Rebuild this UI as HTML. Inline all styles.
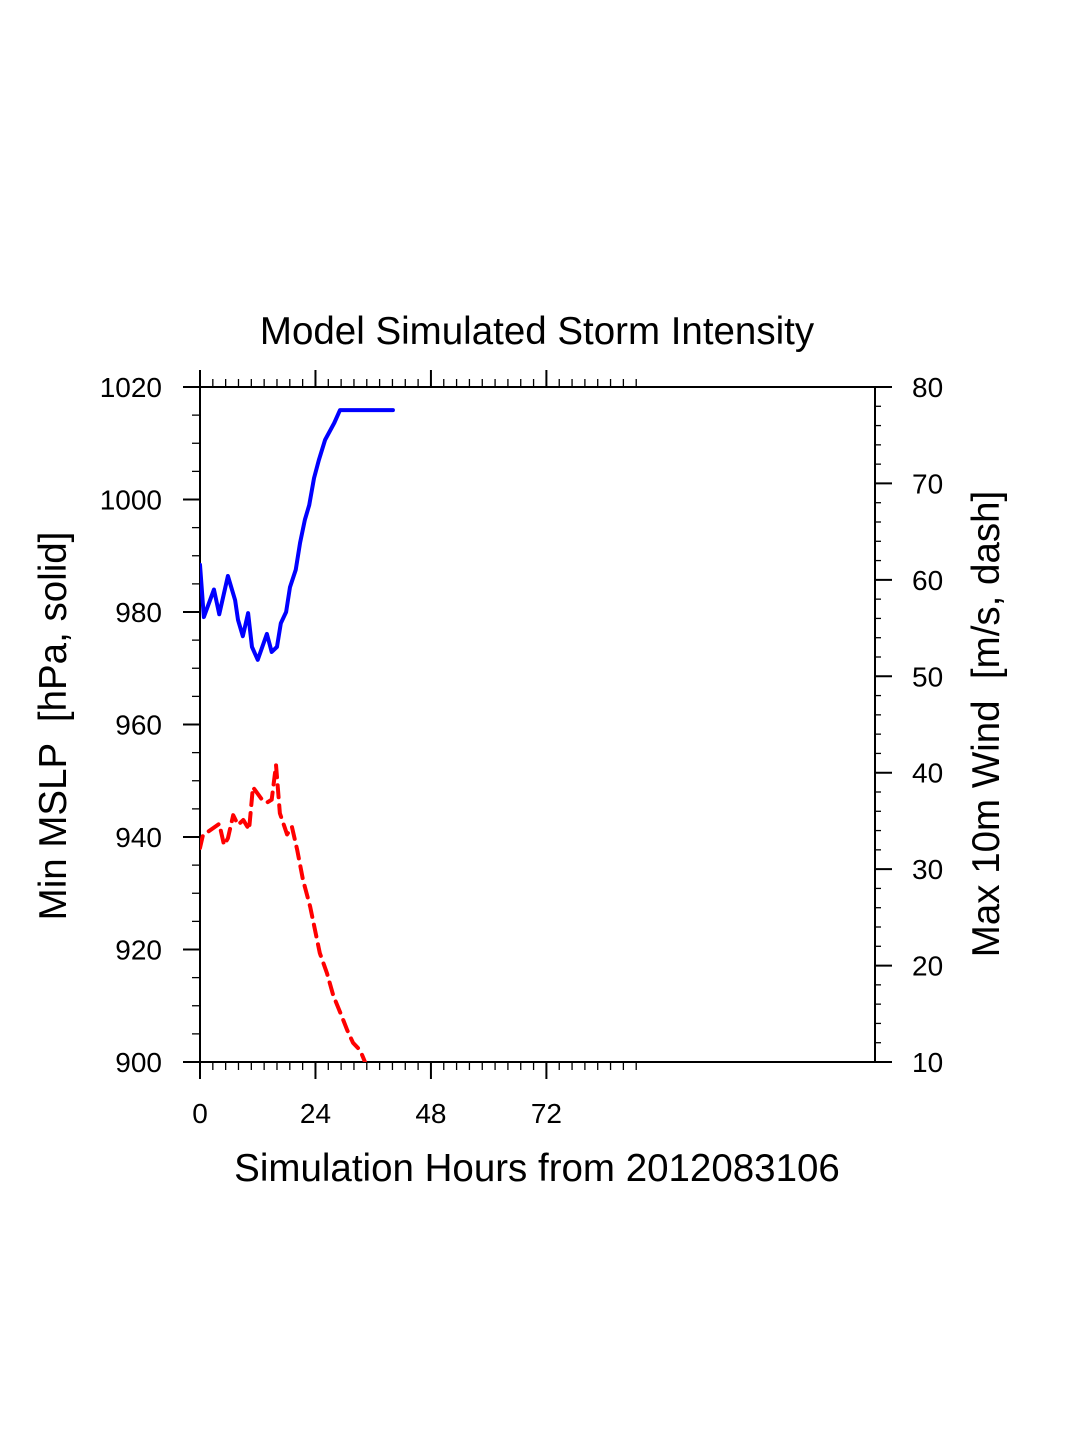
<!DOCTYPE html>
<html><head><meta charset="utf-8"><style>
html,body{margin:0;padding:0;background:#fff;}
svg{display:block;font-family:"Liberation Sans",Arial,sans-serif;}
text{white-space:pre;}
</style></head><body>
<svg id="chart" width="1075" height="1450" viewBox="0 0 1075 1450">
<text x="537" y="344" text-anchor="middle" font-size="38.5">Model Simulated Storm Intensity</text>
<g id="axes"></g>
<g id="series"></g>
<text x="537" y="1181" text-anchor="middle" font-size="38.5">Simulation Hours from 2012083106</text>
<text transform="translate(66,726) rotate(-90)" text-anchor="middle" font-size="38.5" xml:space="preserve">Min MSLP  [hPa, solid]</text>
<text transform="translate(999,724) rotate(-90)" text-anchor="middle" font-size="38.5" xml:space="preserve">Max 10m Wind  [m/s, dash]</text>
</svg>
<script>
const slpHours = [0,0.8,2.9,4,5.8,7.3,7.9,8.9,10,10.8,12,13.9,14.9,16,16.8,17.9,18.7,19.9,20.8,21.8,22.7,23.7,24.7,26,27.9,29.1,40.1];
const slpValues = [988.4,979.1,984,979.6,986.4,982.1,978.6,975.7,979.8,973.8,971.5,976.1,972.9,973.8,978,980,984.4,987.5,992.3,996.4,999,1003.8,1007,1010.6,1013.6,1015.9,1015.9];
const windHours = [0,0.6,4.0,5.0,5.8,6.9,7.9,9.0,10.2,11.0,12.9,13.9,14.9,15.8,16.6,18.1,19.1,20.2,21.4,22.9,23.9,24.9,26.4,27.7,29.5,30.6,31.8,33.3,34.3];
const windValues = [32.2,33.5,34.7,32.5,33.2,35.6,34.6,35.1,34.1,38.5,37.2,36.9,37.2,40.8,35.8,33.6,34.4,32.0,28.9,26.1,23.7,21.3,19.2,16.9,14.7,13.3,12.0,11.2,10.0];
const xTickLabels = [0,24,48,72];
const leftTickLabels = [900,920,940,960,980,1000,1020];
const rightTickLabels = [10,20,30,40,50,60,70,80];

const L=200,R=875,T=387,B=1062;
const xs = h => L + h*(R-L)/140.3;
const yl = p => B - (p-900)*(B-T)/120;
const yr = v => B - (v-10)*(B-T)/70;
const NS='http://www.w3.org/2000/svg';
const axes=document.getElementById('axes'), series=document.getElementById('series');
function mk(tag, attrs, parent){const e=document.createElementNS(NS,tag);for(const k in attrs)e.setAttribute(k,attrs[k]);parent.appendChild(e);return e;}
function line(x1,y1,x2,y2,w,name){const e=mk('line',{x1,y1,x2,y2,stroke:'#000','stroke-width':w},axes);

return e;}
function label(x,y,t,anchor,name){const e=mk('text',{x,y,'font-size':28,'text-anchor':anchor},axes);e.textContent=t;

}

const fr=mk('rect',{x:L,y:T,width:R-L,height:B-T,fill:'none',stroke:'#000','stroke-width':2},axes);



for(let k=0;k*24/9<=91;k++){const h=k*24/9;const x=xs(h);const major=k%9===0;const len=major?17:8;
 line(x,B,x,B+len,major?2:1.3,'x-tick');line(x,T,x,T-len,major?2:1.3,'x-tick-top');}
xTickLabels.forEach(h=>label(xs(h),1123,String(h),'middle','x-tick-label'));
for(let p=900;p<=1020;p+=5){const y=yl(p);const major=p%20===0;line(L,y,L-(major?17:8),y,major?2:1.3,'left-y-tick');}
leftTickLabels.forEach(p=>label(162,yl(p)+10,String(p),'end','left-y-tick-label'));
for(let v=10;v<=80;v+=2){const y=yr(v);const major=v%10===0;line(R,y,R+(major?17:6),y,major?2:1.3,'right-y-tick');}
rightTickLabels.forEach(v=>label(912,yr(v)+10,String(v),'start','right-y-tick-label'));

const clip=mk('clipPath',{id:'pc'},series);mk('rect',{x:L,y:T,width:R-L,height:B-T},clip);
const slp=mk('polyline',{points:slpHours.map((h,i)=>xs(h)+','+yl(slpValues[i])).join(' '),fill:'none',stroke:'#0000ff','stroke-width':4,'stroke-linejoin':'round','stroke-linecap':'round','clip-path':'url(#pc)'},series);


const wind=mk('polyline',{points:windHours.map((h,i)=>xs(h)+','+yr(windValues[i])).join(' '),fill:'none',stroke:'#ff0000','stroke-width':4,'stroke-dasharray':'12 8','stroke-linejoin':'round','stroke-linecap':'round','clip-path':'url(#pc)'},series);


</script>
</body></html>
